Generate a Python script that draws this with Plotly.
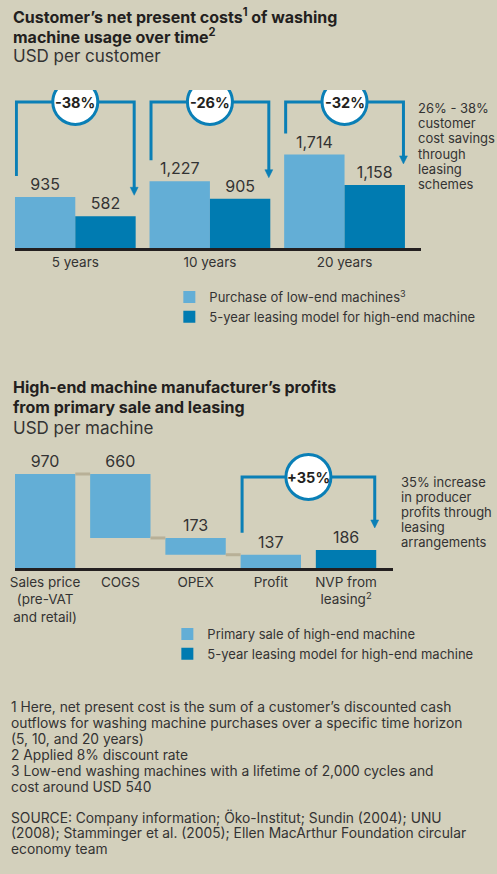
import plotly.graph_objects as go

# ---------------- data ----------------
periods = ["5 years", "10 years", "20 years"]
purchase_low_end = [935, 1227, 1714]
leasing_high_end = [582, 905, 1158]
saving_labels = ["-38%", "-26%", "-32%"]

sale_steps = ["Sales price<br>(pre-VAT<br>and retail)", "COGS", "OPEX", "Profit"]
sale_values = [970, 660, 173, 137]
leasing_steps = ["NVP from<br>leasing<sup>2</sup>"]
leasing_values = [186]
increase_label = "+35%"

side_note_1 = ["26% - 38%", "customer", "cost savings", "through", "leasing", "schemes"]
side_note_2 = ["35% increase", "in producer", "profits through", "leasing", "arrangements"]
footnotes = [
    "1 Here, net present cost is the sum of a customer’s discounted cash",
    "outflows for washing machine purchases over a specific time horizon",
    "(5, 10, and 20 years)",
    "2 Applied 8% discount rate",
    "3 Low-end washing machines with a lifetime of 2,000 cycles and",
    "cost around USD 540",
]
source_lines = [
    "SOURCE: Company information; Öko-Institut; Sundin (2004); UNU",
    "(2008); Stamminger et al. (2005); Ellen MacArthur Foundation circular",
    "economy team",
]

# ---------------- style ----------------
W, H = 497, 874
BG = "#d3d0bc"
LIGHT = "#63aed6"
DARK = "#007bb1"
LINE = "#0a7fb6"
CONNECT = "#b8b097"
TXT = "#333333"
TITLE = "#231f20"
FONT = "Inter, Open Sans, sans-serif"


def fx(p):
    return p / W


def fy(p):
    return 1 - p / H


# chart 1 geometry (pixels)
c1_left, c1_right, c1_base, c1_top = 10, 420, 248, 90
c1_ppu = 0.0545
c1_ymax = (c1_base - c1_top) / c1_ppu
c1_step = 136
c1_barw = 61 / c1_step
c1_xr = [-c1_barw, -c1_barw + (c1_right - c1_left) / c1_step]

# chart 2 geometry (pixels)
c2_left, c2_right, c2_base, c2_top = 10, 392, 568, 440
c2_ppu = 0.0969
c2_ymax = (c2_base - c2_top) / c2_ppu
c2_step = 76
c2_barw = 61 / c2_step
c2_xr = [-c2_barw / 2, -c2_barw / 2 + (c2_right - c2_left) / c2_step]

fig = go.Figure()

bar_common = dict(textposition="outside", textfont=dict(size=16, color=TXT),
                  cliponaxis=False, constraintext="none", hoverinfo="skip")

# chart 1 bars
fig.add_trace(go.Bar(
    x=periods, y=purchase_low_end, width=c1_barw, offset=-c1_barw,
    marker=dict(color=LIGHT, line=dict(width=0)),
    name="Purchase of low-end machines<sup>3</sup>",
    text=[f"{v:,}" for v in purchase_low_end],
    xaxis="x", yaxis="y", legend="legend", **bar_common))
fig.add_trace(go.Bar(
    x=periods, y=leasing_high_end, width=c1_barw, offset=0,
    marker=dict(color=DARK, line=dict(width=0)),
    name="5-year leasing model for high-end machine",
    text=[f"{v:,}" for v in leasing_high_end],
    xaxis="x", yaxis="y", legend="legend", **bar_common))

# chart 2 bars (waterfall built from bases)
sale_bases = [0,
              sale_values[0] - sale_values[1],
              sale_values[0] - sale_values[1] - sale_values[2],
              0]
fig.add_trace(go.Bar(
    x=sale_steps, y=sale_values, base=sale_bases, width=c2_barw, offset=-c2_barw / 2,
    marker=dict(color=LIGHT, line=dict(width=0)),
    name="Primary sale of high-end machine",
    text=[f"{v:,}" for v in sale_values],
    xaxis="x2", yaxis="y2", legend="legend2", **bar_common))
fig.add_trace(go.Bar(
    x=leasing_steps, y=leasing_values, width=c2_barw, offset=-c2_barw / 2,
    marker=dict(color=DARK, line=dict(width=0)),
    name="5-year leasing model for high-end machine",
    text=[f"{v:,}" for v in leasing_values],
    xaxis="x2", yaxis="y2", legend="legend2", **bar_common))

shapes = []
annotations = []


def bracket(xref, yref, xl, xr, y_left, y_tip, y_top, xc, step, ppu, label):
    head_h = 8 / ppu
    head_w = 4 / step
    shapes.append(dict(type="path", xref=xref, yref=yref,
                       path=f"M {xl},{y_left} L {xl},{y_top} L {xr},{y_top} L {xr},{y_tip + head_h * 0.6}",
                       line=dict(color=LINE, width=3)))
    shapes.append(dict(type="path", xref=xref, yref=yref,
                       path=f"M {xr - head_w},{y_tip + head_h} L {xr + head_w},{y_tip + head_h} L {xr},{y_tip} Z",
                       fillcolor=LINE, line=dict(color=LINE, width=0.5)))
    shapes.append(dict(type="circle", xref=xref, yref=yref, xsizemode="pixel", ysizemode="pixel",
                       xanchor=xc, yanchor=y_top, x0=-22.5, x1=22.5, y0=-22.5, y1=22.5,
                       fillcolor="white", line=dict(color=LINE, width=3)))
    annotations.append(dict(x=xc, y=y_top, xref=xref, yref=yref, text=f"<b>{label}</b>",
                            showarrow=False, font=dict(size=14.5, color=TITLE)))


# ---- chart 1 brackets ----
c1_bracket_top = (c1_base - 102) / c1_ppu
c1_gap = 21 / c1_ppu
half1 = 1.5 / c1_step
for i, lab in enumerate(saving_labels):
    bracket("x", "y", i - c1_barw + half1, i + c1_barw - half1,
            purchase_low_end[i] + c1_gap, leasing_high_end[i] + c1_gap,
            c1_bracket_top, i, c1_step, c1_ppu, lab)

# ---- chart 2 connectors ----
levels = [sale_values[0], sale_bases[1], sale_bases[2]]
for i, lv in enumerate(levels):
    shapes.append(dict(type="line", xref="x2", yref="y2",
                       x0=i + c2_barw / 2, x1=i + 1 - c2_barw / 2, y0=lv, y1=lv,
                       line=dict(color=CONNECT, width=3)))

# ---- chart 2 bracket ----
c2_bracket_top = (c2_base - 477) / c2_ppu
c2_gap = 22 / c2_ppu
half2 = 1.5 / c2_step
bracket("x2", "y2", 3 - c2_barw / 2 + half2, 4 + c2_barw / 2 - half2,
        sale_values[3] + c2_gap, leasing_values[0] + c2_gap,
        c2_bracket_top, 3.5, c2_step, c2_ppu, increase_label)


def text_ann(x, y, text, size, color=TXT, yanchor="middle"):
    annotations.append(dict(x=fx(x), y=fy(y), xref="paper", yref="paper", text=text,
                            showarrow=False, xanchor="left", yanchor=yanchor, align="left",
                            font=dict(size=size, color=color), borderpad=0))


# titles
text_ann(7, 16, "<b>Customer’s net present costs<sup>1</sup> of washing</b>", 16, TITLE)
text_ann(7, 36, "<b>machine usage over time<sup>2</sup></b>", 16, TITLE)
text_ann(7, 56, "USD per customer", 17)
text_ann(7, 387, "<b>High-end machine manufacturer’s profits</b>", 16, TITLE)
text_ann(7, 407, "<b>from primary sale and leasing</b>", 16, TITLE)
text_ann(7, 428, "USD per machine", 17)

# side notes
for k, line in enumerate(side_note_1):
    text_ann(416, 108 + 15.2 * k, line, 13)
for k, line in enumerate(side_note_2):
    text_ann(399, 482 + 15 * k, line, 13)

# footnotes
for k, line in enumerate(footnotes):
    text_ann(5, 707 + 16 * k, line, 13.8)
for k, line in enumerate(source_lines):
    text_ann(5, 817 + 16 * k, line, 13.8)

axis_common = dict(showgrid=False, zeroline=False, showline=True, linecolor="#231f20",
                   linewidth=2.5, ticks="", tickfont=dict(size=13.5, color=TXT), fixedrange=True)

fig.update_layout(
    width=W, height=H, margin=dict(l=0, r=0, t=0, b=0),
    paper_bgcolor=BG, plot_bgcolor="rgba(0,0,0,0)",
    font=dict(family=FONT, color=TXT, size=13),
    barmode="group", showlegend=True,
    xaxis=dict(domain=[fx(c1_left), fx(c1_right)], range=c1_xr, anchor="y",
               type="category", categoryorder="array", categoryarray=periods, **axis_common),
    yaxis=dict(domain=[fy(c1_base), fy(c1_top)], range=[0, c1_ymax], visible=False,
               anchor="x", fixedrange=True),
    xaxis2=dict(domain=[fx(c2_left), fx(c2_right)], range=c2_xr, anchor="y2",
                type="category", categoryorder="array", categoryarray=sale_steps + leasing_steps,
                **axis_common),
    yaxis2=dict(domain=[fy(c2_base), fy(c2_top)], range=[0, c2_ymax], visible=False,
                anchor="x2", fixedrange=True),
    legend=dict(x=fx(166), y=fy(282), xanchor="left", yanchor="top", bgcolor="rgba(0,0,0,0)",
                font=dict(size=13, color=TXT), traceorder="normal", borderwidth=0),
    legend2=dict(x=fx(164), y=fy(619), xanchor="left", yanchor="top", bgcolor="rgba(0,0,0,0)",
                 font=dict(size=13, color=TXT), traceorder="normal", borderwidth=0),
    shapes=shapes, annotations=annotations,
)

fig.write_html("out.html", config={"displayModeBar": False, "staticPlot": True},
               post_script="document.body.style.margin='0';document.body.style.overflow='hidden';")
